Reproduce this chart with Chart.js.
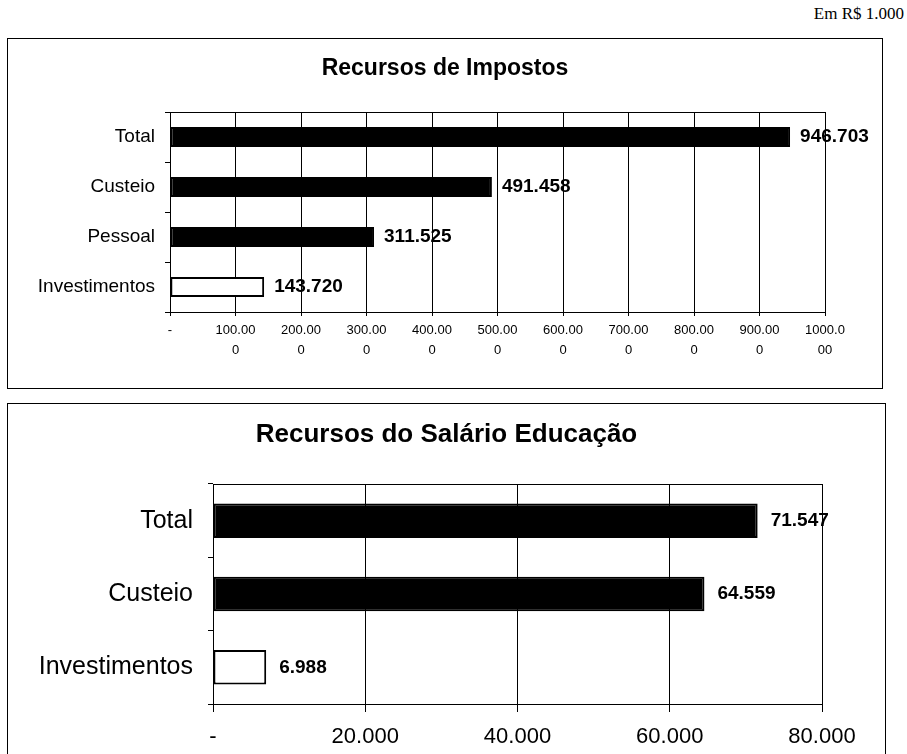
<!DOCTYPE html>
<html>
<head>
<meta charset="utf-8">
<script src="https://cdn.jsdelivr.net/npm/chart.js@4.4.0/dist/chart.umd.min.js"></script>
<style>
  body { margin: 0; background: #fff; width: 907px; height: 754px; overflow: hidden; position: relative; }
  .unit { position: absolute; right: 3px; top: 4px; font: 17px "Liberation Serif", serif; color: #000; }
  .box { position: absolute; left: 7px; border: 1px solid #000; }
  .box canvas { display: block; }
</style>
</head>
<body>
<div class="unit">Em R$ 1.000</div>
<div class="box" style="top:38px;width:874px;height:349px;"><canvas id="topChart" width="874" height="349"></canvas></div>
<div class="box" style="top:403px;width:877px;height:360px;"><canvas id="bottomChart" width="877" height="350"></canvas></div>
<script>
var topCategories = ["Total", "Custeio", "Pessoal", "Investimentos"];
var topValues = [946703, 491458, 311525, 143720];
var topTickLabels = ["-", ["100.00", "0"], ["200.00", "0"], ["300.00", "0"], ["400.00", "0"], ["500.00", "0"],
    ["600.00", "0"], ["700.00", "0"], ["800.00", "0"], ["900.00", "0"], ["1000.0", "00"]];

var bottomCategories = ["Total", "Custeio", "Investimentos"];
var bottomValues = [71547, 64559, 6988];
var bottomTickLabels = ["-", "20.000", "40.000", "60.000", "80.000"];

var FONT = '"Liberation Sans Narrow", "Arial Narrow", "Liberation Sans", Arial, sans-serif';

function fmt(n) {
    return String(n).replace(/\B(?=(\d{3})+(?!\d))/g, '.');
}

function barColors(labels) {
    return labels.map(function(l) { return l === 'Investimentos' ? '#ffffff' : '#000000'; });
}

// plot outline, value labels at bar ends, and the title centred on the whole box
var plotFrame = {
    id: 'plotFrame',
    beforeDatasetsDraw: function(chart) {
        var a = chart.chartArea, ctx = chart.ctx;
        ctx.save();
        ctx.strokeStyle = '#000';
        ctx.lineWidth = 1;
        ctx.strokeRect(a.left + 0.5, a.top + 0.5, a.right - a.left, a.bottom - a.top);
        ctx.restore();
    },
    afterDatasetsDraw: function(chart, args, opts) {
        var ctx = chart.ctx;
        var meta = chart.getDatasetMeta(0);
        var data = chart.data.datasets[0].data;
        ctx.save();
        ctx.fillStyle = '#000';
        ctx.font = 'bold ' + opts.size + 'px ' + FONT;
        ctx.textBaseline = 'middle';
        ctx.textAlign = 'left';
        meta.data.forEach(function(bar, i) {
            ctx.fillText(fmt(data[i]), bar.x + opts.offset, bar.y);
        });
        ctx.font = 'bold ' + opts.titleSize + 'px ' + FONT;
        ctx.textAlign = 'center';
        ctx.fillText(opts.title, chart.width / 2, opts.titleY);
        ctx.restore();
    }
};

function makeChart(id, cats, vals, cfg) {
    return new Chart(document.getElementById(id), {
        type: 'bar',
        data: {
            labels: cats,
            datasets: [{
                data: vals,
                backgroundColor: barColors(cats),
                borderColor: '#000',
                borderWidth: 2,
                borderSkipped: false,
                categoryPercentage: 1,
                barPercentage: cfg.barPct
            }]
        },
        options: {
            indexAxis: 'y',
            responsive: false,
            animation: false,
            devicePixelRatio: 1,
            layout: { padding: { top: cfg.padTop, right: cfg.padRight, bottom: 0, left: 0 } },
            plugins: {
                legend: { display: false },
                tooltip: { enabled: false },
                title: { display: false },
                plotFrame: {
                    size: cfg.valueSize, offset: cfg.valueOffset,
                    title: cfg.title, titleSize: cfg.titleSize, titleY: cfg.titleY
                }
            },
            scales: {
                x: {
                    min: 0,
                    max: cfg.max,
                    ticks: {
                        stepSize: cfg.step,
                        color: '#000',
                        padding: cfg.tickPad,
                        maxRotation: 0,
                        autoSkip: false,
                        font: { family: FONT, size: cfg.xSize, lineHeight: cfg.xLine },
                        callback: function(v, i) { return cfg.ticks[i]; }
                    },
                    grid: { color: '#000', lineWidth: 1, tickLength: cfg.tickLen },
                    border: { color: '#000' },
                    afterFit: function(s) { s.height = cfg.xHeight; }
                },
                y: {
                    ticks: {
                        color: '#000',
                        padding: cfg.yPad,
                        font: { family: FONT, size: cfg.ySize }
                    },
                    grid: { drawOnChartArea: false, color: '#000', tickLength: 5 },
                    border: { color: '#000' },
                    afterFit: function(s) { s.width = cfg.yWidth; }
                }
            }
        },
        plugins: [plotFrame]
    });
}

makeChart('topChart', topCategories, topValues, {
    title: 'Recursos de Impostos', titleSize: 23, titleY: 30, padTop: 73,
    padRight: 57, yWidth: 162, xHeight: 76,
    max: 1000000, step: 100000, ticks: topTickLabels,
    xSize: 13, xLine: 1.54, tickPad: 4, tickLen: 4,
    ySize: 19, yPad: 10, barPct: 0.4, valueSize: 19, valueOffset: 10
});

makeChart('bottomChart', bottomCategories, bottomValues, {
    title: 'Recursos do Salário Educação', titleSize: 26, titleY: 31, padTop: 80,
    padRight: 63, yWidth: 205, xHeight: 50,
    max: 80000, step: 20000, ticks: bottomTickLabels,
    xSize: 22, xLine: 1.2, tickPad: 12, tickLen: 8,
    ySize: 25, yPad: 15, barPct: 0.47, valueSize: 19, valueOffset: 13
});
</script>
</body>
</html>
